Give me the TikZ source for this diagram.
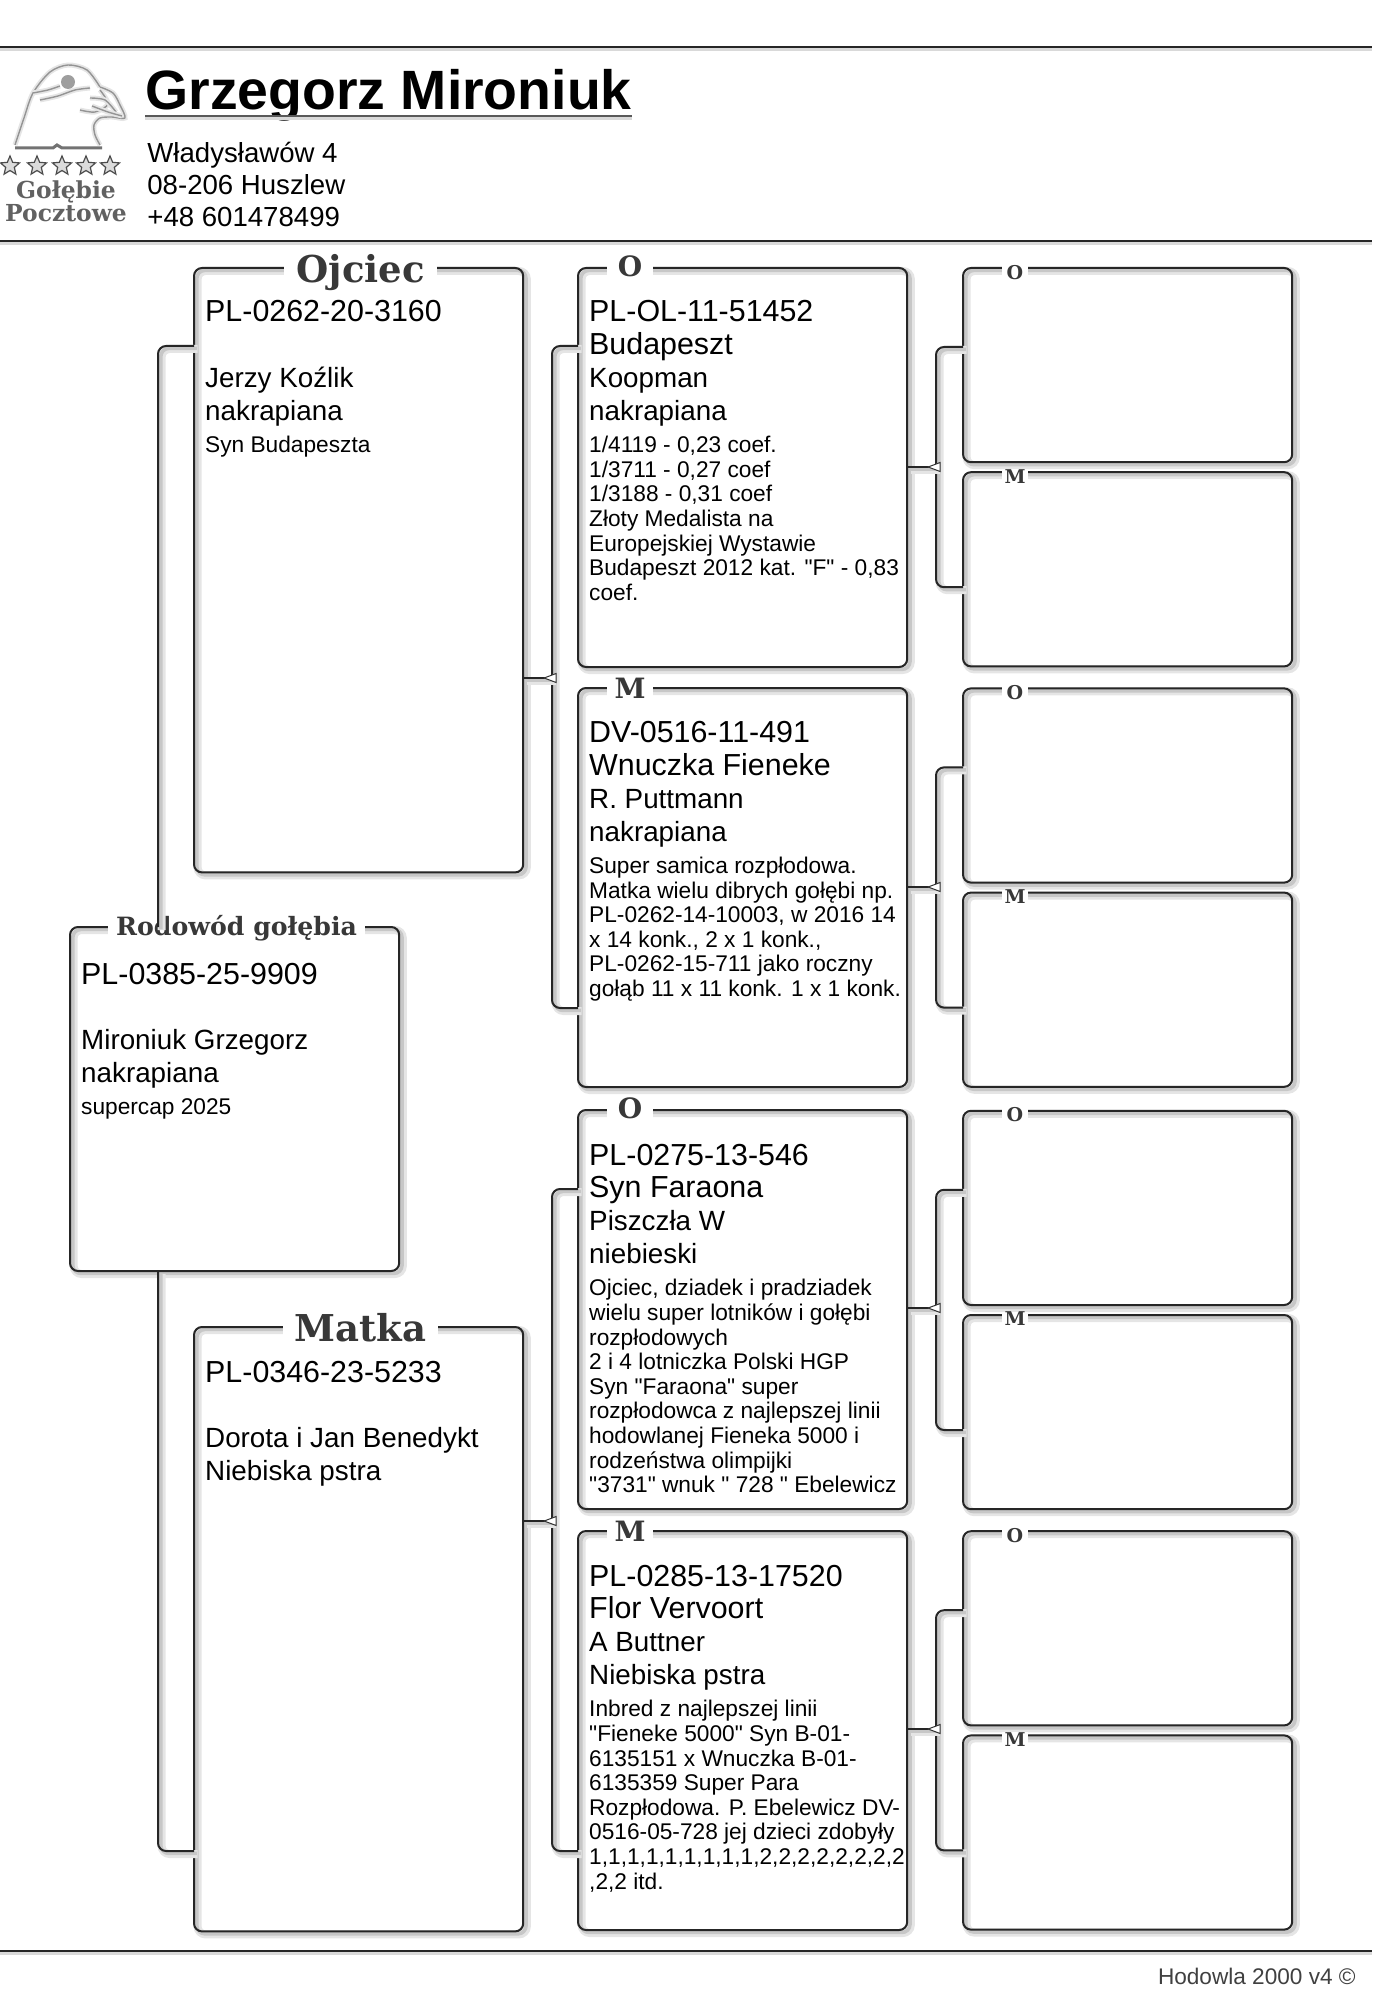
\documentclass[tikz,border=0pt]{standalone}
\usepackage{fontspec}
\setmainfont{Liberation Sans}
\newfontfamily\tagfont{DejaVu Serif}
\usetikzlibrary{shapes.geometric, positioning}

\font\qtfont="Liberation Sans" at 11.35pt
\newcommand{\qt}{{\qtfont\char34}}

% id, name, breeder, colour, notes
\newcommand{\birdtxt}[5]{\begin{minipage}[t]{160pt}\raggedright\parindent=0pt
    \fontsize{15.2}{16.4}\selectfont\rule{0pt}{12pt}#1\par\mbox{}#2\par
    \fontsize{13.9}{16.4}\selectfont\mbox{}#3\par\mbox{}#4\par
    \vspace{3.9pt}\fontsize{11.35}{12.3}\selectfont #5\par\end{minipage}}

\begin{document}
\begin{tikzpicture}[
        x=0.5pt, y=-0.5pt,
        hline/.style={draw=black!85, line width=1pt,
            preaction={draw=black!15, line width=2pt, transform canvas={yshift=-1.2pt}}},
        link/.style={draw=black!85, line width=1pt, rounded corners=4pt,
            preaction={draw=black!10, line width=4pt, transform canvas={xshift=1.8pt,yshift=-1.5pt}},
            preaction={draw=black!22, line width=1.8pt, transform canvas={xshift=1.4pt,yshift=-1.2pt}}},
        birdbox/.style={link, minimum width=164.6pt, inner sep=0pt, outer sep=0pt},
        bigbox/.style={birdbox, minimum height=302.2pt},
        midbox/.style={birdbox, minimum height=199.5pt},
        smallbox/.style={birdbox, minimum height=97.1pt},
        birdinfo/.style={inner sep=0pt, outer sep=0pt},
        tagbig/.style={font=\tagfont\bfseries\fontsize{18.5}{20}\selectfont, text=black!78, fill=white, inner xsep=6pt, inner ysep=0pt, text depth=0pt},
        tagmid/.style={font=\tagfont\bfseries\fontsize{14}{16}\selectfont, text=black!78, fill=white, inner sep=0pt, minimum width=23pt, text depth=0pt},
        tagsmall/.style={font=\tagfont\bfseries\fontsize{9.5}{11}\selectfont, text=black!78, fill=white, inner sep=0pt, minimum width=13pt, text depth=0pt},
        joint/.style={shape=isosceles triangle, shape border rotate=180, isosceles triangle stretches,
            draw=black!80, line width=0.5pt, fill=white, inner sep=0pt, minimum height=6pt, minimum width=4.5pt},
        logoline/.style={draw=black!42, line width=0.7pt, line join=round,
            preaction={draw=black!10, line width=2.5pt}},
        logotxt/.style={font=\tagfont\bfseries\fontsize{11.7}{13}\selectfont, text=black!62, inner sep=0pt, anchor=base},
        logostar/.style={shape=star, star points=5, star point ratio=2.2, draw=black!70, fill=black!14, line width=0.6pt, inner sep=0pt, minimum size=10pt},
    ]
    \useasboundingbox (0,0) rectangle (1382,2000);

    % Header
    \coordinate (ruleaL) at (0,47);
    \coordinate (ruleaR) at (1372,47);
    \coordinate (rulebL) at (0,241);
    \coordinate (rulebR) at (1372,241);
    \coordinate (rulecL) at (0,1951);
    \coordinate (rulecR) at (1372,1951);
    \draw[hline] (ruleaL) -- (ruleaR);
    \draw[hline] (rulebL) -- (rulebR);
    \draw[hline] (rulecL) -- (rulecR);

    \node[inner sep=0pt, anchor=base west, font=\bfseries\fontsize{27.7}{30}\selectfont] (owner) at (145,110) {Grzegorz Mironiuk};
    \draw[hline, draw=black!65] ([yshift=-3pt]owner.base west) -- ([yshift=-3pt]owner.base east);
    \node[inner sep=0pt, anchor=north west, align=left, font=\fontsize{13.8}{16}\selectfont] (address) at (147,142) {Władysławów 4\\08-206 Huszlew\\+48 601478499};
    \node[inner sep=0pt, anchor=base east, text=black!75, font=\fontsize{11.3}{13}\selectfont] (footer) at (1356,1984) {Hodowla 2000 v4 ©};

    % Logo
    \draw[logoline] plot[smooth] coordinates {(15,145) (24,118) (33,93) (50,72) (68,65) (87,70) (100,87)};
    \draw[logoline] plot[smooth] coordinates {(100,87) (113,93) (120,105) (125,118) (112,117) (100,118) (94,125) (95,135) (100,145)};
    \draw[logoline] plot[smooth] coordinates {(33,93) (48,90) (60,86)};
    \draw[logoline] plot[smooth] coordinates {(40,100) (58,96) (75,90) (90,88)};
    \draw[logoline] plot[smooth] coordinates {(80,110) (95,112) (108,104) (100,90)};
    \draw[logoline] plot[smooth] coordinates {(90,98) (105,100) (116,112)};
    \draw[logoline] plot[smooth] coordinates {(92,106) (108,112) (122,116)};
    \fill[black!38] (68,82) circle (3.5pt);
    \draw[draw=black!55, line width=1.5pt] (15,148) -- (53,148) -- (57,145) -- (62,148) -- (102,148);
    \node[logostar] (star1) at (10,166) {};
    \node[logostar] (star2) at (37,166) {};
    \node[logostar] (star3) at (62,166) {};
    \node[logostar] (star4) at (86,166) {};
    \node[logostar] (star5) at (110,166) {};
    \node[logotxt] (logoa) at (66,199) {Gołębie};
    \node[logotxt] (logob) at (66,222) {Pocztowe};

    % Nodes
    \node[birdbox, minimum height=172pt, anchor=north west] (root) at (70,927) {};
    \node[bigbox, anchor=north west] (ojciec) at (194,268) {};
    \node[bigbox, anchor=north west] (matka) at (194,1327) {};

    \node[midbox, anchor=north west] (o1) at (578,268) {};
    \node[midbox, below=10.5pt of o1] (m1) {};
    \node[midbox, below=11.5pt of m1] (o2) {};
    \node[midbox, below=11pt of o2] (m2) {};

    \node[smallbox, anchor=north west] (oo1) at (963,268) {};
    \node[smallbox, below=5pt of oo1] (om1) {};
    \node[smallbox, below=11pt of om1] (mo1) {};
    \node[smallbox, below=5pt of mo1] (mm1) {};
    \node[smallbox, below=12pt of mm1] (oo2) {};
    \node[smallbox, below=5pt of oo2] (om2) {};
    \node[smallbox, below=11pt of om2] (mo2) {};
    \node[smallbox, below=5pt of mo2] (mm2) {};

    % Tags on the frames
    \node[tagbig, inner xsep=4pt, font=\tagfont\bfseries\fontsize{12.6}{14}\selectfont] (roottag) at ([xshift=1pt,yshift=1pt]root.north) {Rodowód gołębia};
    \node[tagbig] (ojciectag) at ([xshift=1pt]ojciec.north) {Ojciec};
    \node[tagbig] (matkatag) at ([xshift=1pt]matka.north) {Matka};
    \node[tagmid] (o1tag) at ([xshift=26pt,yshift=1pt]o1.north west) {O};
    \node[tagmid] (m1tag) at ([xshift=26pt]m1.north west) {M};
    \node[tagmid] (o2tag) at ([xshift=26pt,yshift=1pt]o2.north west) {O};
    \node[tagmid] (m2tag) at ([xshift=26pt]m2.north west) {M};
    \node[tagsmall] (oo1tag) at ([xshift=26pt,yshift=-2pt]oo1.north west) {O};
    \node[tagsmall] (om1tag) at ([xshift=26pt,yshift=-2pt]om1.north west) {M};
    \node[tagsmall] (mo1tag) at ([xshift=26pt,yshift=-2pt]mo1.north west) {O};
    \node[tagsmall] (mm1tag) at ([xshift=26pt,yshift=-2pt]mm1.north west) {M};
    \node[tagsmall] (oo2tag) at ([xshift=26pt,yshift=-2pt]oo2.north west) {O};
    \node[tagsmall] (om2tag) at ([xshift=26pt,yshift=-2pt]om2.north west) {M};
    \node[tagsmall] (mo2tag) at ([xshift=26pt,yshift=-2pt]mo2.north west) {O};
    \node[tagsmall] (mm2tag) at ([xshift=26pt,yshift=-2pt]mm2.north west) {M};

    % Texts
    \node[birdinfo, below right=16.5pt and 5.6pt of root.north west] (rootinfo) {\birdtxt{PL-0385-25-9909}{}{Mironiuk Grzegorz}{nakrapiana}{supercap 2025}};
    \node[birdinfo, below right=15pt and 5.6pt of ojciec.north west] (ojciecinfo) {\birdtxt{PL-0262-20-3160}{}{Jerzy Koźlik}{nakrapiana}{Syn Budapeszta}};
    \node[birdinfo, below right=15.5pt and 5.6pt of matka.north west] (matkainfo) {\birdtxt{PL-0346-23-5233}{}{Dorota i Jan Benedykt}{Niebiska pstra}{}};
    \node[birdinfo, below right=15pt and 5.6pt of o1.north west] (o1info) {\birdtxt{PL-OL-11-51452}{Budapeszt}{Koopman}{nakrapiana}{1/4119 - 0,23 coef.\\1/3711 - 0,27 coef\\1/3188 - 0,31 coef\\Złoty Medalista na\\Europejskiej Wystawie\\Budapeszt 2012 kat. \qt F\qt{} - 0,83\\coef.}};
    \node[birdinfo, below right=15.3pt and 5.6pt of m1.north west] (m1info) {\birdtxt{DV-0516-11-491}{Wnuczka Fieneke}{R. Puttmann}{nakrapiana}{Super samica rozpłodowa.\\Matka wielu dibrych gołębi np.\\PL-0262-14-10003, w 2016 14\\x 14 konk., 2 x 1 konk.,\\PL-0262-15-711 jako roczny\\gołąb 11 x 11 konk. 1 x 1 konk.}};
    \node[birdinfo, below right=15.5pt and 5.6pt of o2.north west] (o2info) {\birdtxt{PL-0275-13-546}{Syn Faraona}{Piszczła W}{niebieski}{Ojciec, dziadek i pradziadek\\wielu super lotników i gołębi\\rozpłodowych\\2 i 4 lotniczka Polski HGP\\Syn \qt Faraona\qt{} super\\rozpłodowca z najlepszej linii\\hodowlanej Fieneka 5000 i\\rodzeństwa olimpijki\\\qt 3731\qt{} wnuk \qt{} 728 \qt{} Ebelewicz}};
    \node[birdinfo, below right=15.5pt and 5.6pt of m2.north west] (m2info) {\birdtxt{PL-0285-13-17520}{Flor Vervoort}{A Buttner}{Niebiska pstra}{Inbred z najlepszej linii\\\qt Fieneke 5000\qt{} Syn B-01-\\6135151 x Wnuczka B-01-\\6135359 Super Para\\Rozpłodowa. P. Ebelewicz DV-\\0516-05-728 jej dzieci zdobyły\\1,1,1,1,1,1,1,1,1,2,2,2,2,2,2,2,2\\,2,2 itd.}};

    % Edges
    \draw[link] ([xshift=44pt]root.north west) |- ([yshift=-39pt]ojciec.north west);
    \draw[link] ([xshift=44pt]root.south west) |- ([yshift=-262pt]matka.north west);

    \coordinate (joa) at (552,678);
    \coordinate (job) at (552,1521);
    \coordinate (joc) at (936,467);
    \coordinate (jod) at (936,887);
    \coordinate (joe) at (936,1308);
    \coordinate (jof) at (936,1729);

    \draw[link] ([yshift=-39pt]o1.north west) -| (joa) |- ([yshift=-160pt]m1.north west);
    \draw[link] ([yshift=-39.5pt]o2.north west) -| (job) |- ([yshift=-160pt]m2.north west);
    \draw[link] ([yshift=-39.5pt]oo1.north west) -| (joc) |- ([yshift=-57.5pt]om1.north west);
    \draw[link] ([yshift=-39.5pt]mo1.north west) -| (jod) |- ([yshift=-57.5pt]mm1.north west);
    \draw[link] ([yshift=-39.5pt]oo2.north west) -| (joe) |- ([yshift=-57.5pt]om2.north west);
    \draw[link] ([yshift=-39.5pt]mo2.north west) -| (jof) |- ([yshift=-57.5pt]mm2.north west);

    \draw[link] (ojciec.east |- joa) -- (joa);
    \draw[link] (matka.east |- job) -- (job);
    \draw[link] (o1.east |- joc) -- (joc);
    \draw[link] (m1.east |- jod) -- (jod);
    \draw[link] (o2.east |- joe) -- (joe);
    \draw[link] (m2.east |- jof) -- (jof);

    \node[joint, xshift=0.5pt] (tria) at (joa) {};
    \node[joint, xshift=0.5pt] (trib) at (job) {};
    \node[joint, xshift=0.5pt] (tric) at (joc) {};
    \node[joint, xshift=0.5pt] (trid) at (jod) {};
    \node[joint, xshift=0.5pt] (trie) at (joe) {};
    \node[joint, xshift=0.5pt] (trif) at (jof) {};

\end{tikzpicture}
\end{document}
